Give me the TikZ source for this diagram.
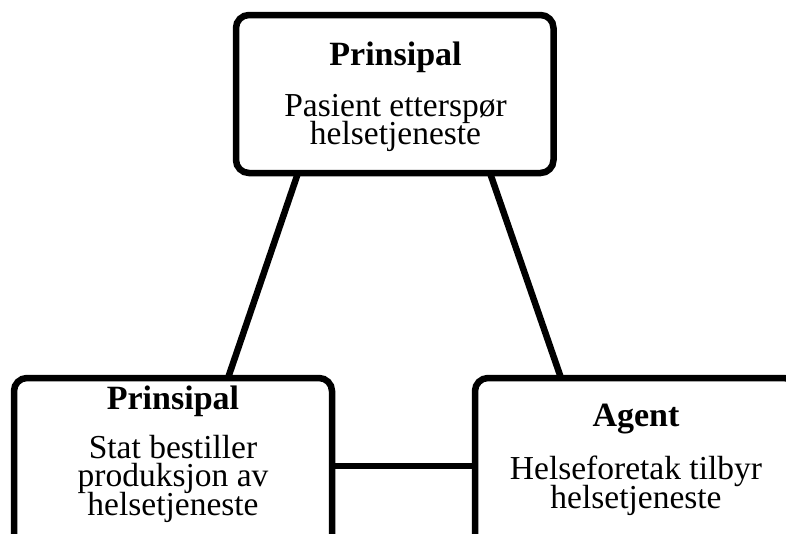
\documentclass[tikz,border=0pt]{standalone}
\usepackage{fontspec}
\setmainfont{Liberation Serif}
\usetikzlibrary{calc}
\tikzset{
  box/.style={draw=black, line width=6.5pt, rounded corners=13pt, rectangle, inner sep=0pt, outer sep=0pt, fill=white},
  link/.style={draw=black, line width=6.5pt},
  txt/.style={inner sep=0pt, outer sep=0pt, anchor=base, font=\fontsize{33.5}{27}\selectfont},
  head/.style={txt, font=\fontsize{34}{27}\selectfont\bfseries}
}
\begin{document}
\begin{tikzpicture}[x=1pt,y=-1pt]
\useasboundingbox (0,0) rectangle (786,533);
\clip (0,0) rectangle (786,533);
\fill[white] (0,0) rectangle (786,533);
% boxes
\node[box, minimum width=317.5pt, minimum height=158pt] (top) at (394.75,94) {};
\node[box, minimum width=318pt, minimum height=176pt] (bl) at (173,466) {};
\node[box, minimum width=322pt, minimum height=176pt] (br) at (636,466) {};
% connectors
\draw[link] ($(top.south west)+(62,0)$) -- ($(bl.north west)+(214,0)$);
\draw[link] ($(top.south west)+(254,0)$) -- ($(br.north west)+(86,0)$);
\draw[link] (bl.east) -- (br.west);
% texts
\node[head] (ta) at (395.5,65) {Prinsipal};
\node[txt] (tb) at (395.5,116) {Pasient etterspør};
\node[txt] (tc) at (395.5,144) {helsetjeneste};
\node[head] (la) at (173,409) {Prinsipal};
\node[txt] (lb) at (173,458) {Stat bestiller};
\node[txt] (lc) at (173,486.5) {produksjon av};
\node[txt] (ld) at (173,515) {helsetjeneste};
\node[head] (ra) at (636,426) {Agent};
\node[txt] (rb) at (636,479) {Helseforetak tilbyr};
\node[txt] (rc) at (636,508) {helsetjeneste};
\end{tikzpicture}
\end{document}
